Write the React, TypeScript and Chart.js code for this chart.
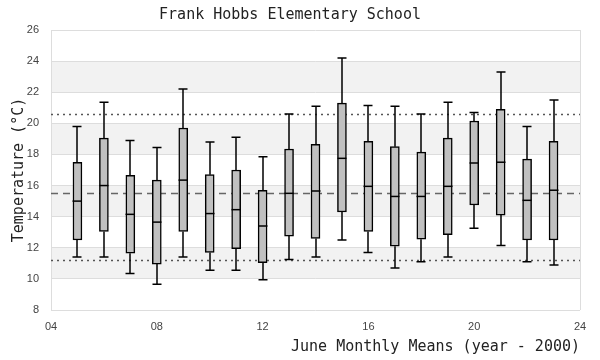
import React, { useEffect, useRef } from 'react';
import { Chart, registerables } from 'chart.js';

Chart.register(...registerables);

const titleText = 'Frank Hobbs Elementary School';
const xTitle = 'June Monthly Means (year - 2000)';
const yTitle = 'Temperature (°C)';

const years = [5, 6, 7, 8, 9, 10, 11, 12, 13, 14, 15, 16, 17, 18, 19, 20, 21, 22, 23];
const whiskerLow = [11.4, 11.4, 10.35, 9.65, 11.4, 10.55, 10.55, 9.95, 11.25, 11.4, 12.5, 11.7, 10.7, 11.1, 11.4, 13.25, 12.15, 11.1, 10.9];
const q1 = [12.5, 13.05, 11.65, 10.95, 13.05, 11.7, 11.95, 11.05, 12.75, 12.6, 14.3, 13.05, 12.1, 12.55, 12.85, 14.75, 14.1, 12.5, 12.5];
const median = [15.0, 16.0, 14.15, 13.65, 16.35, 14.2, 14.45, 13.4, 15.5, 15.65, 17.75, 15.95, 15.3, 15.3, 15.95, 17.45, 17.5, 15.05, 15.7];
const q3 = [17.5, 19.05, 16.65, 16.35, 19.7, 16.7, 17.0, 15.7, 18.35, 18.65, 21.3, 18.85, 18.5, 18.15, 19.05, 20.15, 20.9, 17.7, 18.85];
const whiskerHigh = [19.8, 21.35, 18.9, 18.45, 22.2, 18.8, 19.1, 17.85, 20.6, 21.1, 24.2, 21.15, 21.1, 20.6, 21.35, 20.7, 23.3, 19.8, 21.5];

const refUpper = 20.6;
const refMean = 15.5;
const refLower = 11.2;
const bands = [[10, 12], [14, 16], [18, 20], [22, 24]];

const BOX_W = 9;

const boxPlugin = {
  id: 'boxExtras',
  beforeDraw(chart: any) {
    const { ctx, chartArea } = chart;
    const y = chart.scales.y;
    ctx.save();
    ctx.fillStyle = '#f2f2f2';
    bands.forEach(([a, b]) => {
      const t = y.getPixelForValue(b);
      const bt = y.getPixelForValue(a);
      ctx.fillRect(chartArea.left, t, chartArea.right - chartArea.left, bt - t);
    });
    ctx.restore();
  },
  beforeDatasetsDraw(chart: any) {
    const { ctx, chartArea } = chart;
    const x = chart.scales.x;
    const y = chart.scales.y;
    ctx.save();
    const hline = (v: number, dash: number[], color: string, w: number) => {
      const py = Math.round(y.getPixelForValue(v)) + 0.5;
      ctx.beginPath();
      ctx.setLineDash(dash);
      ctx.strokeStyle = color;
      ctx.lineWidth = w;
      ctx.moveTo(chartArea.left, py);
      ctx.lineTo(chartArea.right, py);
      ctx.stroke();
    };
    hline(refUpper, [2, 4], '#555', 1.5);
    hline(refLower, [2, 4], '#555', 1.5);
    hline(refMean, [7, 5], '#666', 1.5);
    ctx.setLineDash([]);
    ctx.strokeStyle = '#000';
    ctx.lineWidth = 1.5;
    years.forEach((yr, i) => {
      const px = Math.round(x.getPixelForValue(yr));
      const lo = y.getPixelForValue(whiskerLow[i]);
      const hi = y.getPixelForValue(whiskerHigh[i]);
      const a = y.getPixelForValue(q1[i]);
      const b = y.getPixelForValue(q3[i]);
      ctx.beginPath();
      ctx.moveTo(px, lo);
      ctx.lineTo(px, a);
      ctx.moveTo(px, b);
      ctx.lineTo(px, hi);
      ctx.moveTo(px - BOX_W / 2, lo);
      ctx.lineTo(px + BOX_W / 2, lo);
      ctx.moveTo(px - BOX_W / 2, hi);
      ctx.lineTo(px + BOX_W / 2, hi);
      ctx.stroke();
    });
    ctx.restore();
  },
  afterDatasetsDraw(chart: any) {
    const { ctx } = chart;
    const x = chart.scales.x;
    const y = chart.scales.y;
    ctx.save();
    ctx.strokeStyle = '#000';
    ctx.lineWidth = 1.5;
    years.forEach((yr, i) => {
      const px = Math.round(x.getPixelForValue(yr));
      const m = y.getPixelForValue(median[i]);
      ctx.beginPath();
      ctx.moveTo(px - BOX_W / 2, m);
      ctx.lineTo(px + BOX_W / 2, m);
      ctx.stroke();
    });
    ctx.restore();
  },
};

export default function App() {
  const ref = useRef<HTMLCanvasElement | null>(null);
  useEffect(() => {
    if (!ref.current) return;
    const mono = 'DejaVu Sans Mono';
    const tickFont = { family: 'Liberation Sans', size: 11 };
    const chart = new Chart(ref.current, {
      type: 'bar',
      data: {
        datasets: [
          {
            data: years.map((yr, i) => ({ x: yr, y: [q1[i], q3[i]] })) as any,
            backgroundColor: '#c0c0c0',
            borderColor: '#000',
            borderWidth: 1.5,
            borderSkipped: false,
            barThickness: BOX_W,
            grouped: false,
          } as any,
        ],
      },
      options: {
        animation: false,
        responsive: false,
        maintainAspectRatio: false,
        layout: { padding: { left: 0, right: 20, top: 0, bottom: 0 } },
        plugins: {
          legend: { display: false },
          tooltip: { enabled: false },
          title: {
            display: true,
            text: titleText,
            color: '#222',
            font: { family: mono, size: 15, weight: 'normal' },
            padding: { top: 6, bottom: 6 },
          },
        },
        scales: {
          x: {
            type: 'linear',
            min: 4,
            max: 24,
            offset: false,
            afterFit: (s: any) => { s.height = 50; },
            ticks: {
              stepSize: 4,
              color: '#444',
              font: tickFont,
              padding: 10,
              maxRotation: 0,
              callback: (v: any) => String(v).padStart(2, '0'),
            },
            grid: {
              offset: false,
              drawTicks: false,
              color: (c: any) => (c.tick && (c.tick.value === 4 || c.tick.value === 24) ? '#dddddd' : 'rgba(0,0,0,0)'),
              lineWidth: 1,
            },
            border: { display: false },
            title: {
              display: true,
              text: xTitle,
              align: 'end',
              color: '#222',
              font: { family: mono, size: 15, weight: 'normal' },
              padding: { top: 0, bottom: 4 },
            },
          },
          y: {
            type: 'linear',
            min: 8,
            max: 26,
            afterFit: (s: any) => { s.width = 51; },
            ticks: {
              stepSize: 2,
              color: '#444',
              font: tickFont,
              padding: 12,
            },
            grid: { drawTicks: false, color: '#dddddd', lineWidth: 1 },
            border: { display: false },
            title: {
              display: true,
              text: yTitle,
              color: '#222',
              font: { family: mono, size: 15, weight: 'normal' },
              padding: { top: 10, bottom: 0 },
            },
          },
        },
      } as any,
      plugins: [boxPlugin],
    });
    return () => chart.destroy();
  }, []);
  return (
    <div style={{ position: 'absolute', left: 0, top: 0, width: 600, height: 360, background: '#fff' }}>
      <canvas ref={ref} width={600} height={360} style={{ width: 600, height: 360 }} />
    </div>
  );
}
